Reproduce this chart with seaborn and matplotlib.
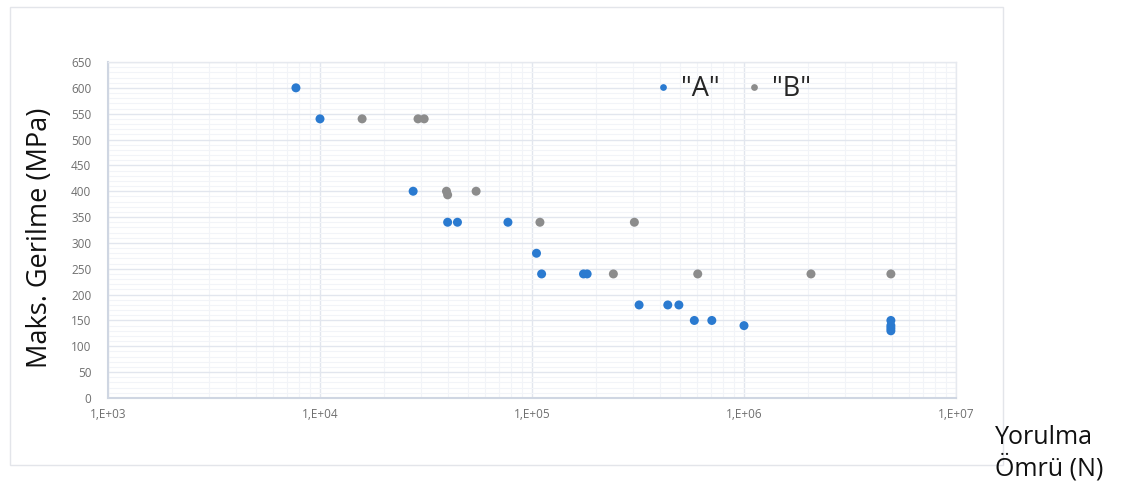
import numpy as np
import pandas as pd
import matplotlib
matplotlib.use("Agg")
import matplotlib.pyplot as plt
from matplotlib.ticker import FixedLocator, MultipleLocator, LogLocator, NullFormatter
from matplotlib.patches import Rectangle
import seaborn as sns

# ---- data ----
a_cycles = [7700, 10000, 27500, 40000, 44500, 77000, 105000, 111000, 175000, 182000,
            320000, 437000, 493000, 583000, 705000, 1000000, 4930000, 4930000, 4930000, 4930000]
a_stress = [600, 540, 400, 340, 340, 340, 280, 240, 240, 240,
            180, 180, 180, 150, 150, 140, 150, 140, 135, 130]
b_cycles = [15800, 29000, 31000, 39500, 40000, 54500, 109000, 242000, 304000, 605000, 2070000, 4930000]
b_stress = [540, 540, 540, 400, 393, 400, 340, 240, 340, 240, 240, 240]
series_names = ['"A"', '"B"']
x_ticks = [1e3, 1e4, 1e5, 1e6, 1e7]
x_tick_labels = ["1,E+03", "1,E+04", "1,E+05", "1,E+06", "1,E+07"]
y_ticks = list(range(0, 651, 50))

df = pd.DataFrame({
    "N": a_cycles + b_cycles,
    "S": a_stress + b_stress,
    "seri": [series_names[0]] * len(a_cycles) + [series_names[1]] * len(b_cycles),
})

sns.set_theme(style="white")
plt.rcParams['font.family'] = ['Open Sans', 'DejaVu Sans']

fig = plt.figure(figsize=(11.24, 4.95), dpi=100)
ax = fig.add_axes([108 / 1124, 1 - 398 / 495, 848 / 1124, 336 / 495])

# outer chart frame
fig.patches.append(Rectangle((10 / 1124, 1 - 465 / 495), 993 / 1124, 458 / 495,
                             transform=fig.transFigure, fill=False,
                             edgecolor="#e3e5ea", linewidth=1.0, zorder=0))

palette = {series_names[0]: "#2a7ad0", series_names[1]: "#8c8c8c"}
sns.scatterplot(data=df, x="N", y="S", hue="seri", palette=palette, s=42,
                edgecolor="none", ax=ax, zorder=3)

ax.set_xscale("log")
ax.set_xlim(1e3, 1e7)
ax.set_ylim(0, 650)

ax.xaxis.set_major_locator(FixedLocator(x_ticks))
ax.set_xticklabels(x_tick_labels)
ax.xaxis.set_minor_locator(LogLocator(base=10, subs=np.arange(2, 10)))
ax.xaxis.set_minor_formatter(NullFormatter())
ax.set_yticks(y_ticks)
ax.yaxis.set_minor_locator(MultipleLocator(10))

ax.grid(True, which="major", color="#e2e6ee", linewidth=1.0, zorder=0)
ax.grid(True, which="minor", color="#f2f4f8", linewidth=0.8, zorder=0)
ax.set_axisbelow(True)

for side, sp in ax.spines.items():
    sp.set_visible(True)
    sp.set_color("#e6e9ef")
    sp.set_linewidth(1.0)
ax.spines["left"].set_color("#cfd6e2")
ax.spines["bottom"].set_color("#cfd6e2")
ax.spines["left"].set_linewidth(1.5)
ax.spines["bottom"].set_linewidth(1.5)

ax.tick_params(axis="both", which="both", length=0, labelsize=8.5, labelcolor="#6f6f6f")
ax.tick_params(axis="x", pad=7)
ax.tick_params(axis="y", pad=12)

ax.set_xlabel("")
ax.set_ylabel("")

fig.text(40 / 1124, 1 - 238 / 495, "Maks. Gerilme (MPa)", rotation=90,
         ha="center", va="center", fontsize=19.5, color="#111111",
         bbox=dict(facecolor="white", edgecolor="none", pad=2))
fig.text(995 / 1124, 1 - 453 / 495, "Yorulma\nÖmrü (N)", ha="left", va="center",
         fontsize=18, color="#111111", linespacing=1.2)

sns.move_legend(ax, "center", bbox_to_anchor=((733 - 108) / 848, (398 - 89) / 336),
                ncol=2, frameon=False, title=None, fontsize=19.5,
                markerscale=0.75, handlelength=0.6, handletextpad=0.35, columnspacing=1.0)

fig.savefig("out.png", dpi=100, facecolor="white")
